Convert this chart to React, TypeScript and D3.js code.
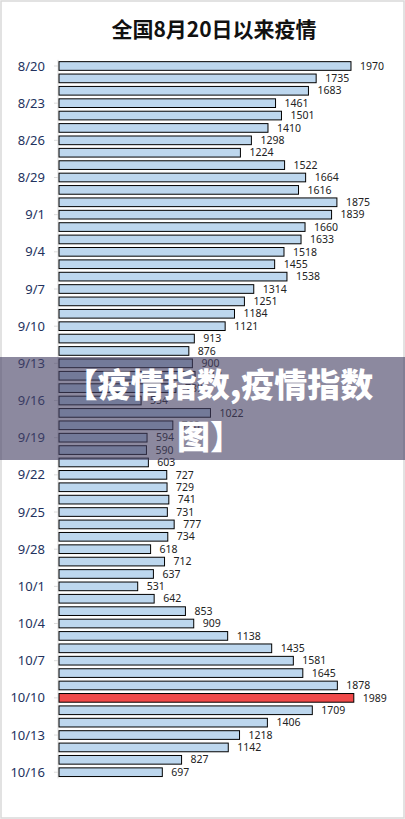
import React from "react";
import * as d3 from "d3";

const dates: string[] = [
  "8/20","8/21","8/22","8/23","8/24","8/25","8/26","8/27","8/28","8/29","8/30","8/31",
  "9/1","9/2","9/3","9/4","9/5","9/6","9/7","9/8","9/9","9/10","9/11","9/12","9/13","9/14","9/15",
  "9/16","9/17","9/18","9/19","9/20","9/21","9/22","9/23","9/24","9/25","9/26","9/27","9/28","9/29","9/30",
  "10/1","10/2","10/3","10/4","10/5","10/6","10/7","10/8","10/9","10/10","10/11","10/12","10/13","10/14","10/15","10/16",
];
const values: number[] = [
  1970,1735,1683,1461,1501,1410,1298,1224,1522,1664,1616,1875,
  1839,1660,1633,1518,1455,1538,1314,1251,1184,1121,913,876,900,918,789,
  554,1022,768,594,590,603,727,729,741,731,777,734,618,712,637,
  531,642,853,909,1138,1435,1581,1645,1878,1989,1709,1406,1218,1142,827,697,
];
const tickLabels: string[] = dates.filter((_, i) => i % 3 === 0);
const highlightDate = "10/10";
const title = "全国8月20日以来疫情";
const bannerLines: string[] = ["【疫情指数,疫情指数", "图】"];

const W = 405;
const H = 819;

export default function App() {
  const y = d3.scaleBand<string>().domain(dates).range([59.8, 778.4]).paddingInner(0.3).paddingOuter(0.15);
  const x = d3.scaleLinear().domain([0, 1989]).range([59, 353.8]);
  const bw = y.bandwidth();
  return (
    <svg width={W} height={H} style={{ position: "absolute", left: 0, top: 0, background: "#fff" }}
      fontFamily="'Noto Sans', 'Open Sans', sans-serif">
      <rect x={1} y={1} width={W - 2} height={H - 2} fill="#fff" stroke="#d9d9d9" strokeWidth={1.5} />
      <text x={214} y={37} textAnchor="middle" fontSize={21} fontWeight={700}
        fontFamily="'Noto Sans CJK SC', sans-serif" fill="#111">{title}</text>
      <line x1={58} x2={58} y1={y.range()[0]} y2={y.range()[1]} stroke="#dcdcdc" strokeWidth={1} />
      {tickLabels.map((d) => {
        const cy = (y(d) ?? 0) + bw / 2;
        return (
          <g key={"t" + d}>
            <line x1={54} x2={58} y1={cy} y2={cy} stroke="#dcdcdc" />
            <text x={45} y={cy} dy="0.35em" textAnchor="end" fontSize={13} fill="#23325e">{d}</text>
          </g>
        );
      })}
      {dates.map((d, i) => {
        const top = y(d) ?? 0;
        const v = values[i];
        return (
          <g key={d}>
            <rect x={x(0)} y={top} width={x(v) - x(0)} height={bw}
              fill={d === highlightDate ? "#f04a4a" : "#bdd7ee"} stroke="#000" strokeWidth={1} />
            <text x={x(v) + 9} y={top + bw / 2} dy="0.35em" fontSize={10.5} fill="#222">{v}</text>
          </g>
        );
      })}
      <rect x={0} y={357} width={W} height={103} fill="rgba(70,65,100,0.62)" />
      {bannerLines.map((t, i) => (
        <text key={i} x={i === 0 ? 219 : 210} y={397 + i * 52} textAnchor="middle" fontSize={33} fontWeight={900}
          fontFamily="'Noto Sans CJK SC', sans-serif" fill="#fff">{t}</text>
      ))}
    </svg>
  );
}
